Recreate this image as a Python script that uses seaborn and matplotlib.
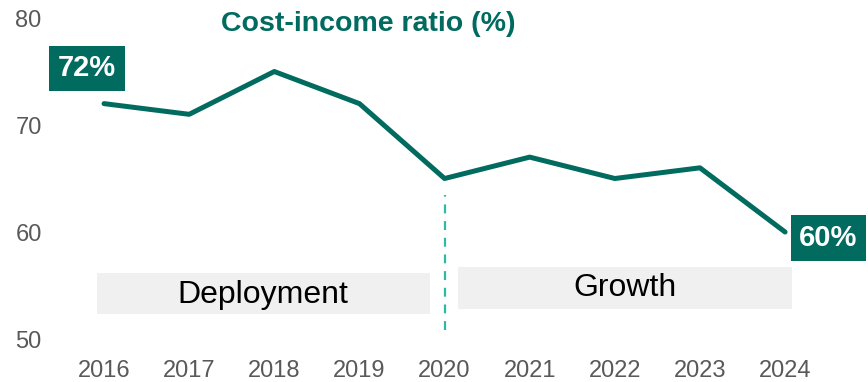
import matplotlib
matplotlib.use("Agg")
import matplotlib.pyplot as plt
import seaborn as sns
import pandas as pd
from matplotlib.patches import Rectangle

years = [2016, 2017, 2018, 2019, 2020, 2021, 2022, 2023, 2024]
ratio = [72, 71, 75, 72, 65, 67, 65, 66, 60]
y_ticks = [50, 60, 70, 80]
phases = ["Deployment", "Growth"]

GREEN = "#006B5E"
TEAL = "#2DB9A3"
BOX = "#F0F0F0"
TICK = "#595959"

sns.set_theme(style="white")
plt.rcParams["font.family"] = ["Liberation Sans", "DejaVu Sans"]

df = pd.DataFrame({"year": years, "ratio": ratio})

fig = plt.figure(figsize=(8.68, 3.82), dpi=100)
ax = fig.add_axes([50 / 868, 37 / 382, 810 / 868, 335 / 382])

# phase bands
ax.add_patch(Rectangle((2015.92, 52.34), 3.91, 3.83, facecolor=BOX, edgecolor="none", zorder=0))
ax.add_patch(Rectangle((2020.16, 52.8), 3.92, 3.93, facecolor=BOX, edgecolor="none", zorder=0))
ax.text(2017.87, 54.15, phases[0], ha="center", va="center", fontsize=23, color="black")
ax.text(2022.12, 54.75, phases[1], ha="center", va="center", fontsize=23, color="black")

# divider between phases
ax.plot([2020, 2020], [50.8, 63.5], color=TEAL, lw=1.6, ls=(0, (4, 3.5)), zorder=1)

sns.lineplot(data=df, x="year", y="ratio", ax=ax, color=GREEN, lw=3.6,
             solid_capstyle="round", zorder=3)

# value callouts at the ends
bbox = dict(boxstyle="square,pad=0.3", facecolor=GREEN, edgecolor="none")
ax.text(2015.8, ratio[0] + 3.3, f"{ratio[0]}%", ha="center", va="center",
        fontsize=21, fontweight="bold", color="white", bbox=bbox, zorder=4)
ax.text(2024.51, ratio[-1] - 0.56, f"{ratio[-1]}%", ha="center", va="center",
        fontsize=21, fontweight="bold", color="white", bbox=bbox, zorder=4)

ax.text(2019.1, 79.4, "Cost-income ratio (%)", ha="center", va="center",
        fontsize=20.5, fontweight="bold", color=GREEN)

ax.set_xlim(2015.365, 2024.88)
ax.set_ylim(49.44, 80.75)
ax.set_xticks(years)
ax.set_xticklabels([str(y) for y in years])
ax.set_yticks(y_ticks)
ax.tick_params(axis="x", length=0, pad=11, labelsize=17, labelcolor=TICK)
ax.tick_params(axis="y", length=0, pad=6, labelsize=17, labelcolor=TICK)
ax.set_xlabel("")
ax.set_ylabel("")
for s in ax.spines.values():
    s.set_visible(False)
ax.grid(False)

fig.savefig("out.png", dpi=100)
